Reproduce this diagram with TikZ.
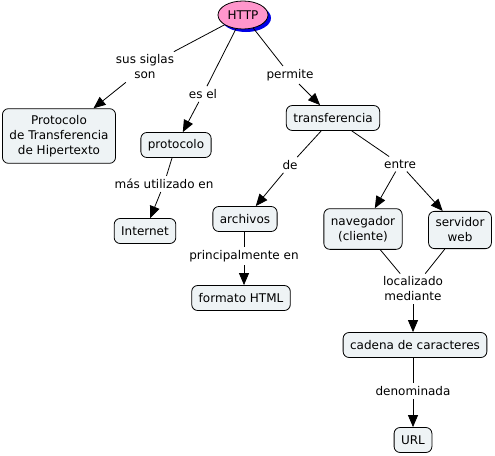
\documentclass[tikz,border=0pt]{standalone}
\usepackage{fontspec}
\setmainfont{DejaVu Sans}
\usepackage{tikz}
\usetikzlibrary{arrows.meta,shapes.geometric,shadows}

\definecolor{conceptfill}{RGB}{238,243,245}
\definecolor{rootfill}{RGB}{255,150,204}
\definecolor{rootshadow}{RGB}{0,0,230}

\tikzset{
  concept/.style={draw,line width=0.8pt,rounded corners=6pt,fill=conceptfill,
    inner xsep=7pt,inner ysep=6.5pt,minimum height=25pt,align=center},
  linkword/.style={inner sep=3pt,align=center},
  link/.style={line width=0.8pt},
  linkarrow/.style={line width=0.8pt,-{Triangle[length=12pt,width=10pt]}},
}

\begin{document}
\begin{tikzpicture}[x=1pt,y=-1pt,font=\fontsize{12}{15}\selectfont]
\useasboundingbox (0,0) rectangle (495,455);
% ---- concepts ----
\node[ellipse,draw,line width=0.8pt,fill=rootfill,minimum width=50pt,minimum height=28pt,
  inner sep=1pt,drop shadow={shadow xshift=3pt,shadow yshift=-3pt,fill=rootshadow,opacity=1}]
  (http) at (243,15) {HTTP};
\node[concept] (siglas) at (59,136) {Protocolo\\de Transferencia\\de Hipertexto};
\node[concept] (proto) at (176,145) {protocolo};
\node[concept] (transf) at (333,118) {transferencia};
\node[concept] (inet) at (145,231) {Internet};
\node[concept] (arch) at (245,219) {archivos};
\node[concept,inner ysep=7.5pt] (nav) at (363,229) {navegador\\(cliente)};
\node[concept] (serv) at (460,230) {servidor\\web};
\node[concept] (html) at (241,298) {formato HTML};
\node[concept] (cadena) at (415,345) {cadena de caracteres};
\node[concept] (url) at (413,440) {URL};
% ---- linking words ----
\node[linkword] (lsiglas) at (145,67) {sus siglas\\son};
\node[linkword] (lesel) at (203,94) {es el};
\node[linkword] (lperm) at (290,75) {permite};
\node[linkword] (lmas) at (164,184) {más utilizado en};
\node[linkword] (lde) at (290,165) {de};
\node[linkword] (lentre) at (400,164) {entre};
\node[linkword] (lprin) at (244,256) {principalmente en};
\node[linkword] (lloc) at (413,289) {localizado\\mediante};
\node[linkword] (lden) at (413,391) {denominada};
% ---- connectors ----
\draw[link] (http) -- (lsiglas);
\draw[linkarrow] (lsiglas) -- (siglas);
\draw[link] (http) -- (lesel);
\draw[linkarrow] (lesel) -- (proto);
\draw[link] (http) -- (lperm);
\draw[linkarrow] (lperm) -- (transf);
\draw[link] (proto) -- (lmas);
\draw[linkarrow] (lmas) -- (inet);
\draw[link] (transf) -- (lde);
\draw[linkarrow] (lde) -- (arch);
\draw[link] (transf) -- (lentre);
\draw[linkarrow] (lentre) -- (nav);
\draw[linkarrow] (lentre) -- (serv);
\draw[link] (arch.south -| lprin) -- (lprin);
\draw[linkarrow] (lprin) -- (lprin |- html.north);
\draw[link] (nav) -- (lloc);
\draw[link] (serv) -- (lloc);
\draw[linkarrow] (lloc) -- (lloc |- cadena.north);
\draw[link] (cadena.south -| lden) -- (lden);
\draw[linkarrow] (lden) -- (lden |- url.north);
\end{tikzpicture}
\end{document}
